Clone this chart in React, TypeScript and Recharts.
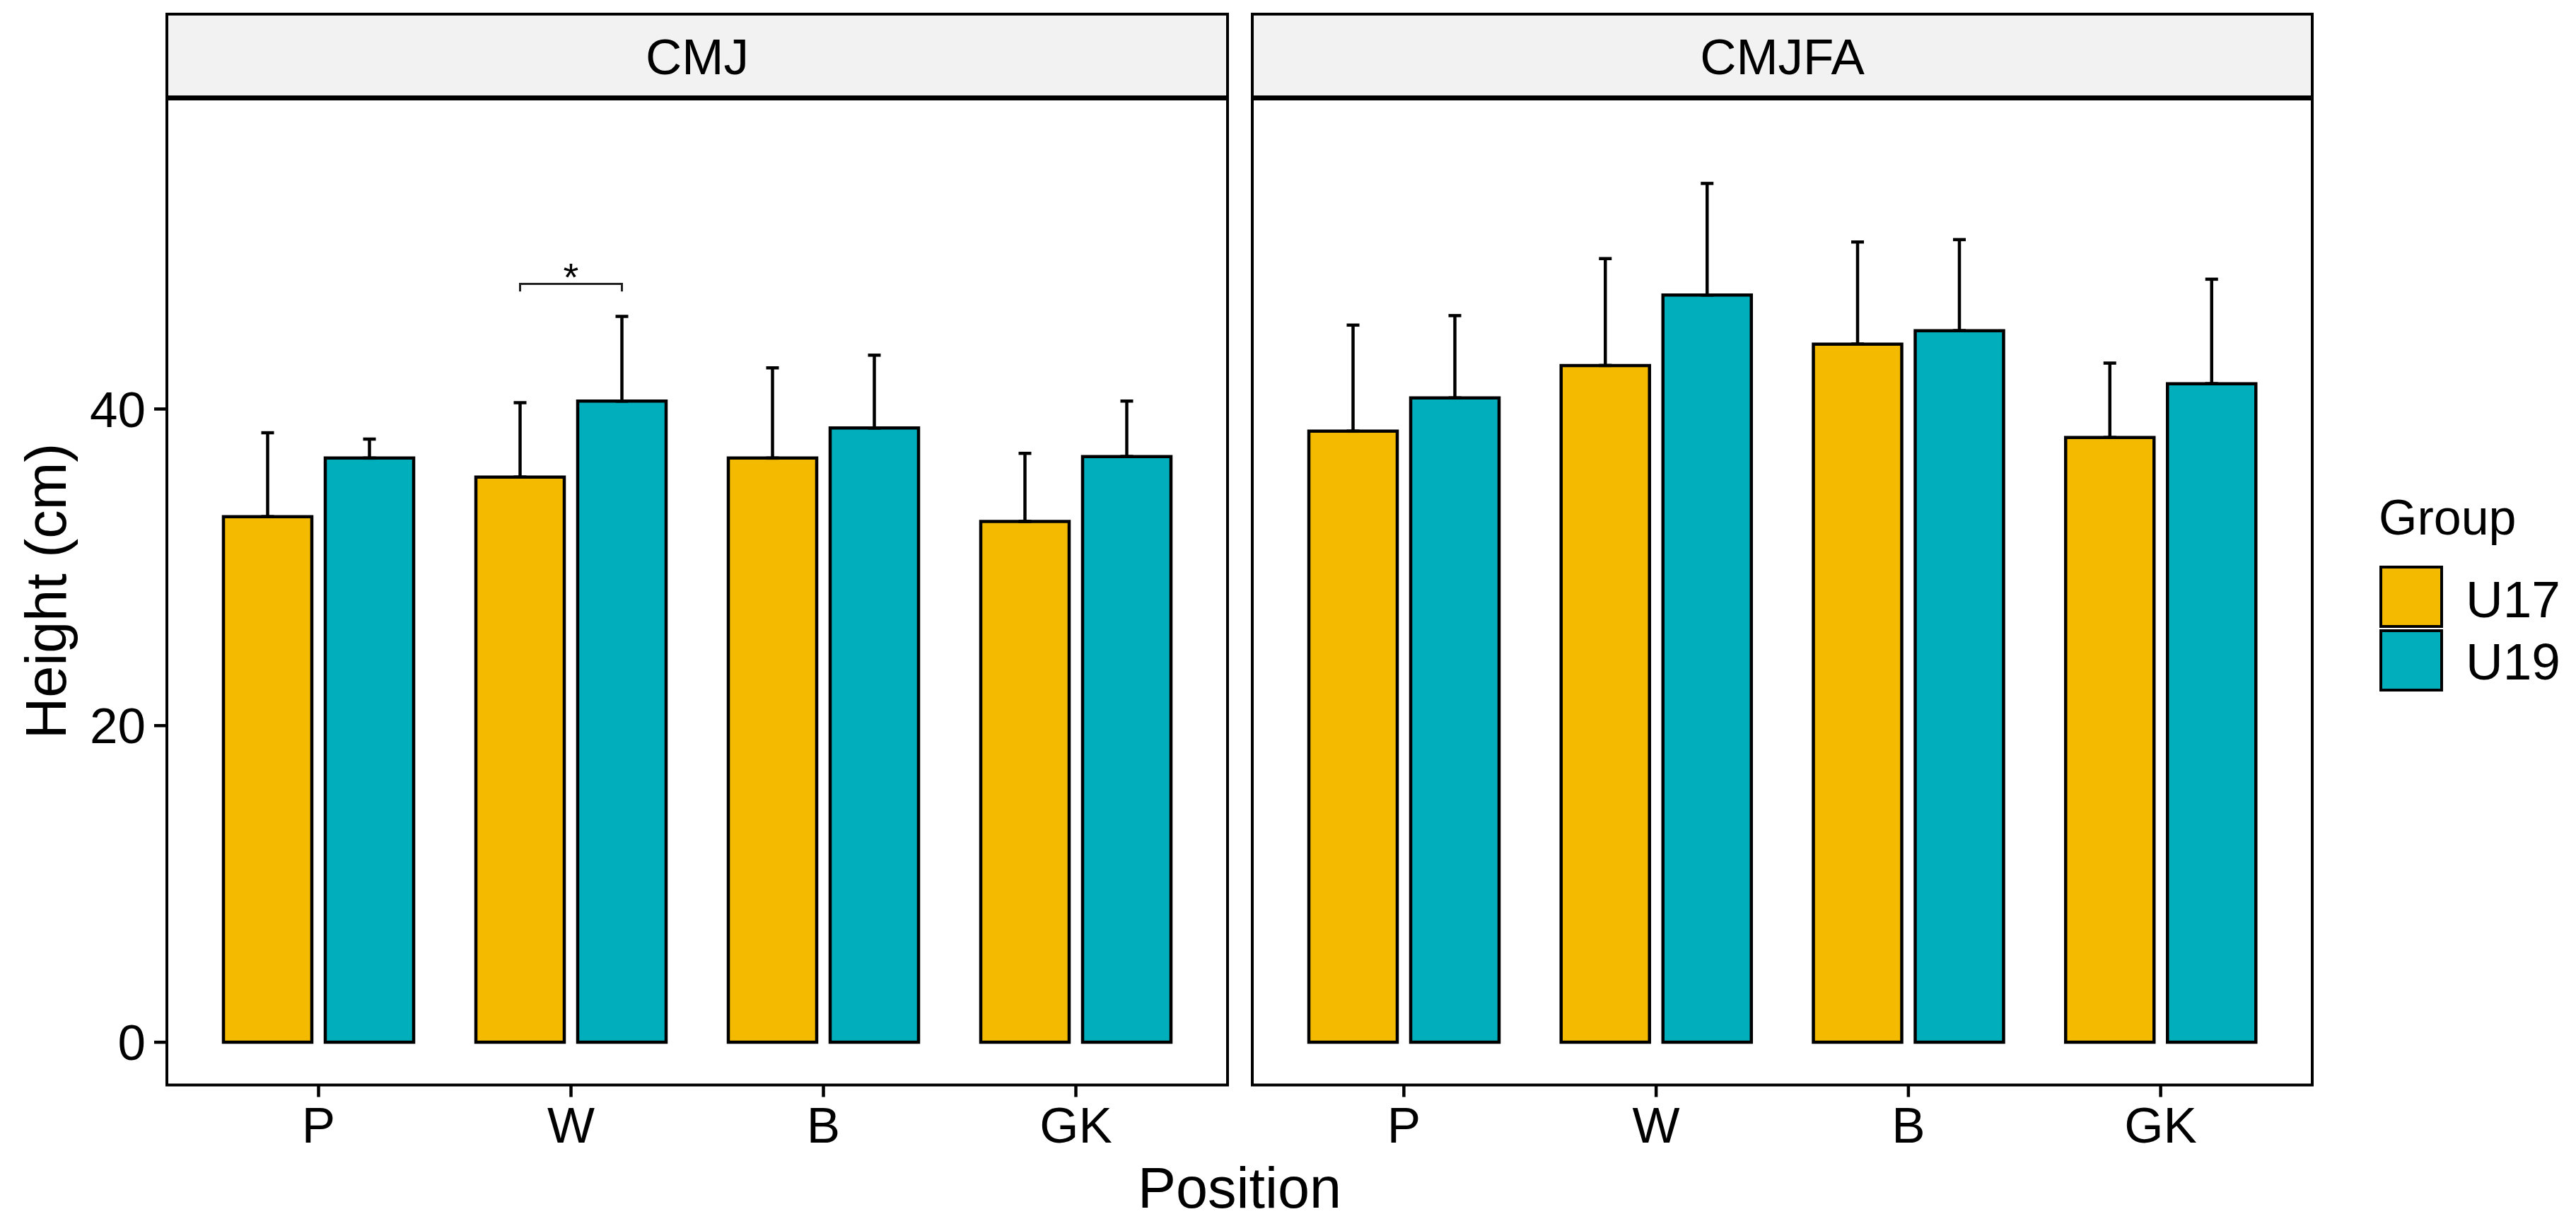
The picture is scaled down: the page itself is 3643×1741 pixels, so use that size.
import React from 'react';
import { BarChart, Bar, XAxis, YAxis, ErrorBar, LabelList } from 'recharts';

const positions = ['P', 'W', 'B', 'GK'];
const groups = ['U17', 'U19'];
const groupColors = ['#F4BA00', '#00AFBB'];

// CMJ panel (mean and upper SD)
const cmjU17 = [33.2, 35.7, 36.9, 32.9];
const cmjU17Sd = [5.3, 4.7, 5.7, 4.3];
const cmjU19 = [36.9, 40.5, 38.8, 37.0];
const cmjU19Sd = [1.2, 5.35, 4.6, 3.5];

// CMJFA panel
const cmjfaU17 = [38.6, 42.75, 44.1, 38.2];
const cmjfaU17Sd = [6.7, 6.75, 6.45, 4.7];
const cmjfaU19 = [40.7, 47.2, 44.95, 41.6];
const cmjfaU19Sd = [5.2, 7.05, 5.75, 6.6];

// significance bracket (U17 vs U19), only W in CMJ
const cmjSigY = [null, 47.9, null, null];
const cmjSigLabel = [null, '*', null, null];
const cmjfaSigY = [null, null, null, null];
const cmjfaSigLabel = [null, null, null, null];

const yTicks = [0, 20, 40];
const yDomain = [-2.7, 59.65];

const FONT = '"Liberation Sans", Arial, Helvetica, sans-serif';
const W = 3643;
const H = 1741;
const PANEL_TOP = 138.5;
const PANEL_BOTTOM = 1534.5;
const STRIP_TOP = 20;
const BAR_GAP = 19;
const X_AXIS_H = 120;

const panels = [
  { title: 'CMJ', left: 236, right: 1736, u17: cmjU17, u17Sd: cmjU17Sd, u19: cmjU19, u19Sd: cmjU19Sd, sig: cmjSigY, sigLabel: cmjSigLabel },
  { title: 'CMJFA', left: 1771, right: 3270, u17: cmjfaU17, u17Sd: cmjfaU17Sd, u19: cmjfaU19, u19Sd: cmjfaU19Sd, sig: cmjfaSigY, sigLabel: cmjfaSigLabel },
];

const buildRows = (p) =>
  positions.map((pos, i) => ({
    position: pos,
    U17: p.u17[i],
    U19: p.u19[i],
    U17err: [0, p.u17Sd[i]],
    U19err: [0, p.u19Sd[i]],
    sig: p.sig[i],
    sigLabel: p.sigLabel[i],
  }));

const makeBracket = (rows) => (props: any) => {
  const { index, value } = props;
  if (value == null) return null;
  const vb = props.viewBox || props;
  const { x, y, width, height } = vb;
  const unit = height / rows[index].U17;
  const base = y + height;
  const yb = base - value * unit;
  const x1 = x + width / 2;
  const x2 = x1 + width + BAR_GAP;
  const tip = 0.48 * unit;
  return (
    <g>
      <path d={`M${x1},${yb + tip}V${yb}H${x2}V${yb + tip}`} fill="none" stroke="#222" strokeWidth={3} />
      <text x={(x1 + x2) / 2} y={yb + 9} textAnchor="middle" fontSize={56} fontFamily={FONT} fill="#000">
        {rows[index].sigLabel}
      </text>
    </g>
  );
};

const Panel = ({ p, showY }) => {
  const rows = buildRows(p);
  const yW = showY ? 100 : 0;
  const chartLeft = showY ? 0 : p.left - 31;
  const chartW = showY ? p.right + 24 : p.right - chartLeft + 30;
  return (
    <div style={{ position: 'absolute', left: chartLeft, top: 0 }}>
      <BarChart
        width={chartW}
        height={H}
        data={rows}
        margin={{ top: PANEL_TOP, right: chartW - (p.right - chartLeft), bottom: H - PANEL_BOTTOM - X_AXIS_H, left: p.left - chartLeft - yW }}
        barCategoryGap={44}
        barGap={BAR_GAP}
      >
        <XAxis
          dataKey="position"
          height={X_AXIS_H}
          padding={{ left: 36, right: 36 }}
          axisLine={false}
          tickSize={17}
          tickMargin={14}
          tickLine={{ stroke: '#000', strokeWidth: 4.5 }}
          tick={{ fontSize: 71, fill: '#000', fontFamily: FONT }}
          interval={0}
        />
        <YAxis
          type="number"
          domain={yDomain}
          ticks={yTicks}
          allowDataOverflow
          hide={!showY}
          width={yW}
          axisLine={false}
          tickSize={18}
          tickMargin={12}
          tickLine={{ stroke: '#000', strokeWidth: 4.5 }}
          tick={{ fontSize: 71, fill: '#000', fontFamily: FONT }}
        />
        <Bar dataKey="U17" fill={groupColors[0]} stroke="#000" strokeWidth={4.5} isAnimationActive={false}>
          <ErrorBar dataKey="U17err" direction="y" width={9} stroke="#000" strokeWidth={4.5} isAnimationActive={false} />
          <LabelList dataKey="sig" content={makeBracket(rows)} />
        </Bar>
        <Bar dataKey="U19" fill={groupColors[1]} stroke="#000" strokeWidth={4.5} isAnimationActive={false}>
          <ErrorBar dataKey="U19err" direction="y" width={9} stroke="#000" strokeWidth={4.5} isAnimationActive={false} />
        </Bar>
      </BarChart>
    </div>
  );
};

const Overlay = () => (
  <svg width={W} height={H} style={{ position: 'absolute', left: 0, top: 0, pointerEvents: 'none' }}>
    {panels.map((p) => (
      <g key={p.title}>
        <rect x={p.left} y={STRIP_TOP} width={p.right - p.left} height={PANEL_TOP - STRIP_TOP} fill="#F2F2F2" stroke="#000" strokeWidth={4} />
        <rect x={p.left} y={PANEL_TOP} width={p.right - p.left} height={PANEL_BOTTOM - PANEL_TOP} fill="none" stroke="#000" strokeWidth={4} />
        <line x1={p.left} x2={p.right} y1={PANEL_TOP} y2={PANEL_TOP} stroke="#000" strokeWidth={7} />
        <text x={(p.left + p.right) / 2} y={105} textAnchor="middle" fontSize={71} fontFamily={FONT} fill="#000">
          {p.title}
        </text>
      </g>
    ))}
    <text transform="translate(93,836) rotate(-90)" textAnchor="middle" fontSize={81} fontFamily={FONT} fill="#000">
      Height (cm)
    </text>
    <text x={1753} y={1708} textAnchor="middle" fontSize={81} fontFamily={FONT} fill="#000">
      Position
    </text>
    <text x={3364} y={756} fontSize={70} fontFamily={FONT} fill="#000">
      Group
    </text>
    {groups.map((g, i) => (
      <g key={g}>
        <rect x={3367} y={802 + i * 90} width={86} height={84} fill={groupColors[i]} stroke="#000" strokeWidth={4} />
        <text x={3487} y={873 + i * 88} fontSize={73} fontFamily={FONT} fill="#000">
          {g}
        </text>
      </g>
    ))}
  </svg>
);

export default function App() {
  return (
    <div style={{ position: 'absolute', left: 0, top: 0, width: W, height: H, background: '#fff' }}>
      {panels.map((p, i) => (
        <Panel key={p.title} p={p} showY={i === 0} />
      ))}
      <Overlay />
    </div>
  );
}
